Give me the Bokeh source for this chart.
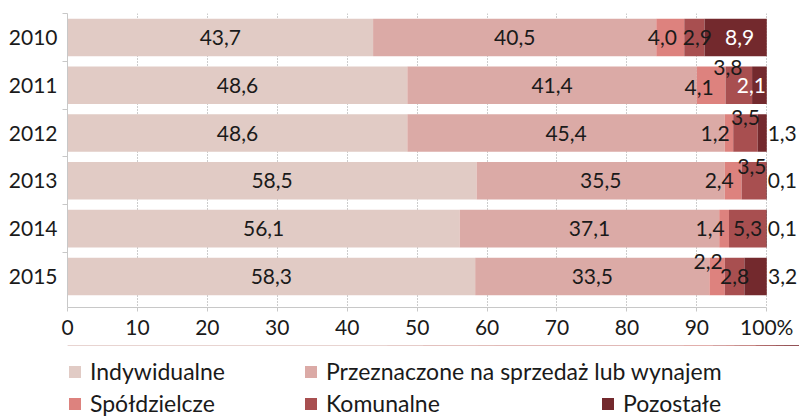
from bokeh.plotting import figure
from bokeh.models import Range1d, FixedTicker, ColumnDataSource, Legend, LegendItem
from bokeh.layouts import column
from bokeh.embed import file_html
from bokeh.resources import INLINE
import numpy as np

# ---------------- data ----------------
years = ["2010", "2011", "2012", "2013", "2014", "2015"]
series_names = ["Indywidualne", "Przeznaczone na sprzedaż lub wynajem",
                "Spółdzielcze", "Komunalne", "Pozostałe"]
indywidualne = [43.7, 48.6, 48.6, 58.5, 56.1, 58.3]
przeznaczone = [40.5, 41.4, 45.4, 35.5, 37.1, 33.5]
spoldzielcze = [4.0, 4.1, 1.2, 2.4, 1.4, 2.2]
komunalne = [2.9, 3.8, 3.5, 3.5, 5.3, 2.8]
pozostale = [8.9, 2.1, 1.3, 0.1, 0.1, 3.2]
x_ticks = [0, 10, 20, 30, 40, 50, 60, 70, 80, 90, 100]
x_tick_labels = ["0", "10", "20", "30", "40", "50", "60", "70", "80", "90", "100%"]

series_values = [indywidualne, przeznaczone, spoldzielcze, komunalne, pozostale]

# ---------------- styles ----------------
colors = ["#E1CBC5", "#DBAAA6", "#DD827E", "#A84F50", "#73292D"]
FONT = "Lato"
TXT = "#1a1a1a"
# label nudges (pixels) per series, per year
nudge_dx = [[0] * 6, [0] * 6,
            [-8, -12, -14, -14, -14, -9],
            [3, -11, 0, -2, 0, 0],
            [4, -8, 20, 16, 16, 27]]
nudge_dy = [[0] * 6, [0] * 6,
            [0, 2, 0, 0, 0, -15],
            [0, -18, -16, -14, 0, 0],
            [0, 0, 0, 0, 0, 0]]
label_colors = [[TXT] * 6, [TXT] * 6, [TXT] * 6, [TXT] * 6,
                ["white", "white", TXT, TXT, TXT, TXT]]

n = len(years)
ycent = [i + 0.5 for i in range(n)]
bounds = [float(i) for i in range(n)]

p = figure(width=799, height=345, output_backend="svg", toolbar_location=None,
           x_range=Range1d(0, 104.68), y_range=Range1d(6.15, 0),
           min_border_left=67, min_border_right=0, min_border_top=13,
           min_border_bottom=38)
p.outline_line_color = None
p.background_fill_color = "white"
p.border_fill_color = "white"

# grid
p.ygrid.visible = False
p.xgrid.ticker = FixedTicker(ticks=x_ticks)
p.xgrid.grid_line_color = "#9A9A9A"
p.xgrid.grid_line_dash = "1 2"
p.xgrid.grid_line_width = 1

# bars
bar_data = []
left = np.zeros(n)
label_x, label_y, label_t, label_dx, label_dy, label_c = [], [], [], [], [], []
for k, vals in enumerate(series_values):
    vals = np.array(vals, dtype=float)
    right = left + vals
    bar_data.append((left.copy(), right.copy()))
    p.hbar(y=ycent, left=left, right=right, height=0.785,
           fill_color=colors[k], line_color=None)
    for i in range(n):
        label_x.append((left[i] + right[i]) / 2)
        label_y.append(ycent[i])
        label_t.append(f"{vals[i]:.1f}".replace(".", ","))
        label_dx.append(nudge_dx[k][i])
        label_dy.append(nudge_dy[k][i])
        label_c.append(label_colors[k][i])
    left = right

src = ColumnDataSource(dict(x=label_x, y=label_y, text=label_t,
                            dx=label_dx, dy=label_dy, c=label_c))
p.text(x="x", y="y", text="text", x_offset="dx", y_offset="dy", source=src,
       text_color="c", text_align="center", text_baseline="middle",
       text_font={"value": FONT}, text_font_size={"value": "21px"})

# x axis
xa = p.xaxis[0]
xa.ticker = FixedTicker(ticks=x_ticks)
xa.bounds = (0, 100)
xa.major_label_overrides = {t: l for t, l in zip(x_ticks, x_tick_labels)}
xa.axis_line_color = "#C8C8C8"
xa.major_tick_line_color = "#C8C8C8"
xa.major_tick_out = 4
xa.major_tick_in = 0
xa.minor_tick_line_color = None
xa.major_label_text_font = FONT
xa.major_label_text_font_size = "21px"
xa.major_label_text_color = TXT
xa.major_label_standoff = 2

# y axis
ya = p.yaxis[0]
ya.ticker = FixedTicker(ticks=ycent, minor_ticks=bounds)
ya.major_label_overrides = {c: y for c, y in zip(ycent, years)}
ya.axis_line_color = "#C8C8C8"
ya.major_tick_line_color = None
ya.major_tick_out = 0
ya.major_tick_in = 0
ya.minor_tick_line_color = "#C8C8C8"
ya.minor_tick_out = 5
ya.minor_tick_in = 0
ya.major_label_text_font = FONT
ya.major_label_text_font_size = "21px"
ya.major_label_text_color = TXT
ya.major_label_standoff = 5

# ---------------- legend panel (frame aligned with the chart's frame) ----------------
p2 = figure(width=799, height=71, output_backend="svg", toolbar_location=None,
            x_range=Range1d(0, 100), y_range=Range1d(-3, -2),
            x_axis_location=None, y_axis_location=None,
            min_border_left=0, min_border_right=0, min_border_top=0,
            min_border_bottom=0)
p2.outline_line_color = None
p2.grid.visible = False
# legend proxies: same bars, outside the visible range of this panel
leg_renderers = [p2.hbar(y=ycent, left=bar_data[k][0], right=bar_data[k][1],
                         height=0.785, fill_color=colors[k], line_color=None)
                 for k in range(len(series_names))]
leg_x = [0, 236, 0, 236, 533]
leg_y = [31, 31, -1, -1, -1]
for k in range(len(series_names)):
    lg = Legend(items=[LegendItem(label=series_names[k], renderers=[leg_renderers[k]])],
                location=(leg_x[k], leg_y[k]), orientation="horizontal",
                padding=0, margin=0, spacing=0, border_line_color=None,
                background_fill_alpha=0, glyph_width=15, glyph_height=15,
                label_standoff=8, label_text_font=FONT,
                label_text_font_size="23px", label_text_color=TXT)
    p2.add_layout(lg, "center")

layout = column(p, p2, spacing=0)
open("out.html", "w").write(file_html(layout, INLINE))
